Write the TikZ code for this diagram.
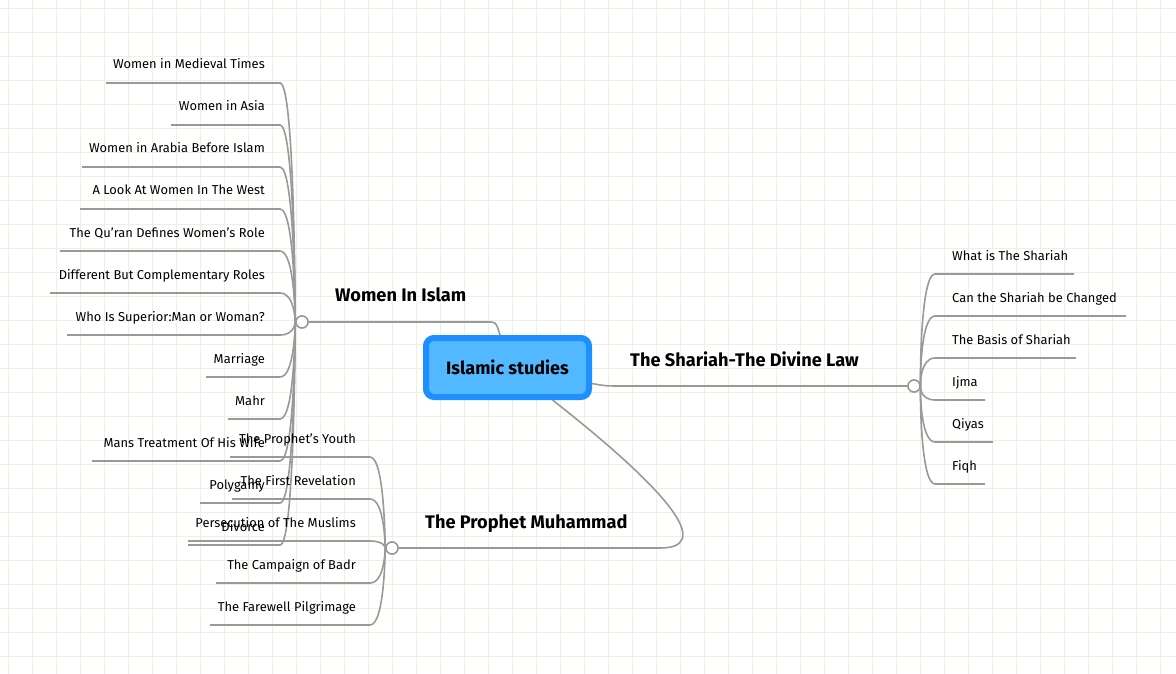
\documentclass[tikz,border=0pt]{standalone}
\usepackage{fontspec}
\setmainfont{Fira Sans}
\usetikzlibrary{positioning}
\definecolor{gridc}{HTML}{EEF1E2}
\definecolor{linec}{HTML}{999999}
\definecolor{rootout}{HTML}{1E8FFF}
\definecolor{rootin}{HTML}{52B8FF}
\tikzset{
  leaf/.style={inner sep=0pt, font=\fontsize{12.9}{15}\selectfont},
  branch/.style={inner sep=0pt, font=\fontsize{18.2}{21}\selectfont\bfseries},
  conn/.style={draw=linec, line width=1.6pt},
  hub/.style={circle, draw=linec, fill=white, line width=1.4pt, minimum size=12pt, inner sep=0pt}
}
\begin{document}
\begin{tikzpicture}[x=1pt,y=-1pt]
    \useasboundingbox (0,0) rectangle (1176,674);
    % background grid
    \foreach \gx in {8,32,...,1176} \draw[gridc, line width=0.8pt] (\gx,0) -- (\gx,674);
    \foreach \gy in {8,32,...,674} \draw[gridc, line width=0.8pt] (0,\gy) -- (1176,\gy);

    % root
    \node[draw=rootout, line width=6pt, fill=rootin, rounded corners=8pt, minimum width=163pt, minimum height=59pt,
          font=\fontsize{18}{21}\selectfont\bfseries] (root) at (507.5,367.5) {Islamic studies};
    \coordinate (rootlow) at ([xshift=45pt]root.south);

    % Women In Islam
    \node[hub] (women) at (302,322) {};
    \node[branch, anchor=base west] (womenlbl) at (335,301) {Women In Islam};
    \draw[conn] (women) -- (488,322) .. controls (496,322) .. (500,335);
    \foreach \t/\yy/\lft [count=\i] in {
        Women in Medieval Times/65/106,
        Women in Asia/107/171,
        Women in Arabia Before Islam/149/82,
        A Look At Women In The West/191/80,
        The Qu'ran Defines Women's Role/233/60,
        Different But Complementary Roles/275/50,
        Who Is Superior:Man or Woman?/317/67,
        Marriage/359/206,
        Mahr/401/228,
        Mans Treatment Of His Wife/443/92,
        Polygamy/485/200,
        Divorce/527/188}{
      \node[leaf, anchor=base east] (wl\i) at (265,\yy+4) {\t};
      \coordinate (wu\i) at (280,\yy+18);
      \draw[conn] (\lft,\yy+18) -- (wu\i) .. controls (295,\yy+18) and (295,322) .. (women);
    }

    % The Prophet Muhammad
    \node[hub] (prophet) at (392,548) {};
    \node[branch, anchor=base west] (prophetlbl) at (425,528) {The Prophet Muhammad};
    \draw[conn] (prophet) -- (660,548) .. controls (710,548) and (680,500) .. (rootlow);
    \foreach \t/\yy/\lft [count=\i] in {
        The Prophet's Youth/439/230,
        The First Revelation/481/232,
        Persecution of The Muslims/523/188,
        The Campaign of Badr/565/216,
        The Farewell Pilgrimage/607/210}{
      \node[leaf, anchor=base east] (pl\i) at (356,\yy+4) {\t};
      \coordinate (pu\i) at (370,\yy+18);
      \draw[conn] (\lft,\yy+18) -- (pu\i) .. controls (385,\yy+18) and (385,548) .. (prophet);
    }

    % The Shariah
    \node[hub] (shariah) at (914,386) {};
    \node[branch, anchor=base west] (shariahlbl) at (630,366) {The Shariah-The Divine Law};
    \draw[conn] (root.east) ++(0,16) .. controls (605,386) .. (625,386) -- (shariah);
    \foreach \t/\yy/\rgt [count=\i] in {
        What is The Shariah/256/1074,
        Can the Shariah be Changed/298/1126,
        The Basis of Shariah/340/1076,
        Ijma/382/985,
        Qiyas/424/993,
        Fiqh/466/985}{
      \node[leaf, anchor=base west] (sl\i) at (952,\yy+4) {\t};
      \coordinate (su\i) at (935,\yy+18);
      \draw[conn] (shariah) .. controls (920,386) and (920,\yy+18) .. (su\i) -- (\rgt,\yy+18);
    }
    \node[hub] at (women) {};
    \node[hub] at (prophet) {};
    \node[hub] at (shariah) {};
\end{tikzpicture}
\end{document}
